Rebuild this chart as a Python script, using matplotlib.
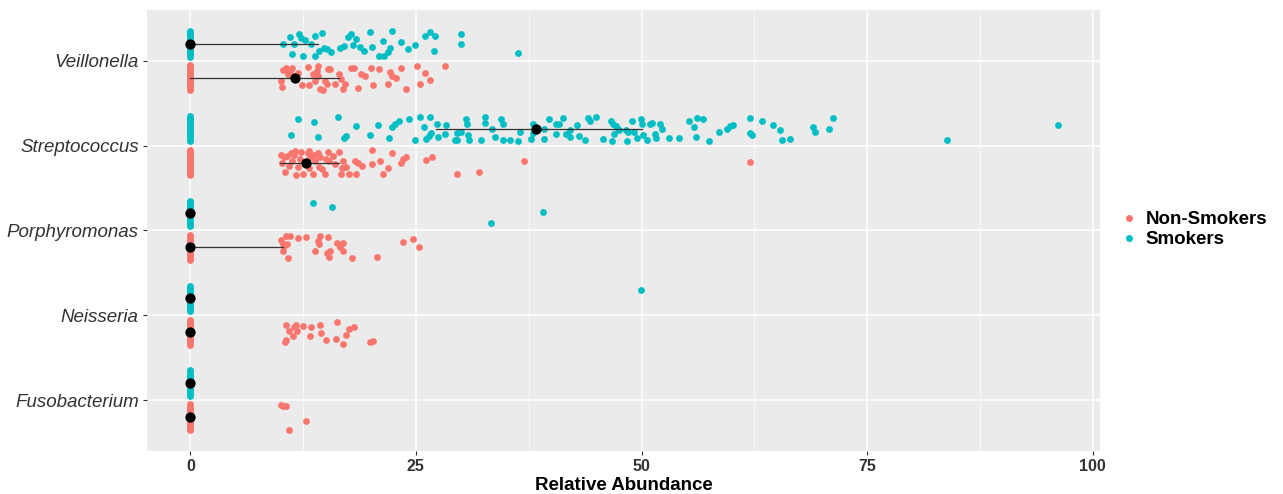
import matplotlib.pyplot as plt
from matplotlib.lines import Line2D

genera = ['Veillonella', 'Streptococcus', 'Porphyromonas', 'Neisseria', 'Fusobacterium']
groups = ['Non-Smokers', 'Smokers']
colors = {'Non-Smokers': '#F8766D', 'Smokers': '#00BFC4'}

# relative abundance of non-zero samples (x) and their vertical jitter (j)
veil_smk_x = [10.3, 11.0, 11.3, 11.5, 12.0, 12.3, 12.5, 12.7, 13.4, 13.8, 13.8, 14.3, 14.6, 14.8,
              15.1, 15.6, 16.6, 17.0, 17.5, 17.8, 18.0, 18.4, 18.8, 19.3, 19.9, 20.1, 20.9, 21.3,
              21.5, 21.9, 22.1, 22.3, 23.4, 24.1, 24.9, 26.0, 26.6, 27.1, 27.0, 30.0, 30.0, 36.3]
veil_smk_j = [0.00, 0.08, -0.12, 0.00, 0.11, 0.07, -0.14, 0.04, 0.00, 0.09, -0.14, -0.08, 0.13, -0.05,
              -0.06, -0.10, -0.05, -0.02, 0.08, 0.11, -0.01, 0.06, -0.04, -0.09, 0.14, -0.04, -0.14, 0.03,
              -0.14, -0.10, -0.05, 0.15, 0.02, -0.06, -0.01, 0.09, 0.14, 0.09, -0.08, 0.12, 0.00, -0.11]
veil_non_x = [10.1, 10.2, 10.3, 10.6, 10.8, 11.0, 11.3, 11.4, 11.6, 11.9, 12.4, 13.0, 13.2, 13.6,
              13.8, 14.0, 14.1, 14.1, 14.4, 14.7, 14.9, 15.1, 15.3, 15.5, 16.0, 16.5, 16.7, 16.9,
              17.1, 17.8, 18.1, 18.6, 18.9, 19.4, 20.0, 20.2, 20.9, 22.1, 22.3, 21.9, 22.8, 23.4,
              23.9, 25.1, 25.5, 26.0, 26.6, 28.2]
veil_non_j = [-0.04, -0.11, 0.09, 0.12, 0.04, 0.08, 0.11, 0.02, -0.02, 0.06, -0.08, 0.13, -0.09, 0.04,
              -0.04, 0.08, 0.14, 0.02, -0.13, -0.15, -0.04, -0.07, 0.10, 0.10, -0.07, 0.05, -0.02, -0.13,
              -0.07, 0.12, 0.12, -0.12, 0.04, 0.02, 0.12, -0.09, 0.10, 0.07, 0.02, -0.07, 0.00, 0.12,
              -0.13, 0.14, -0.07, 0.06, -0.03, 0.14]

strep_smk_x = [11.1, 11.9, 13.7, 14.1, 16.4, 17.0, 17.3, 18.4, 19.9, 20.8, 22.0, 22.3, 22.7, 23.1,
               24.2, 24.9, 25.5, 25.9, 26.1, 26.4, 26.6, 26.7, 27.3, 27.4, 28.2, 28.3, 29.3, 29.5,
               29.6, 30.0, 30.6, 30.7, 30.8, 30.9, 32.2, 32.6, 32.6, 33.4, 33.8, 34.4, 34.6, 34.7,
               35.4, 36.3, 36.5, 37.7, 38.0, 38.0, 39.2, 39.2, 39.8, 40.5, 40.5, 40.9, 41.3, 41.6,
               42.1, 42.1, 42.9, 43.1, 43.7, 44.1, 44.3, 44.9, 45.7, 46.6, 46.7, 46.8, 46.9, 47.2,
               47.4, 47.5, 48.3, 48.4, 48.5, 49.0, 49.2, 49.5, 49.9, 50.0, 50.2, 50.6, 50.9, 51.2,
               51.5, 51.6, 52.1, 52.3, 53.1, 54.2, 55.3, 55.8, 56.0, 56.2, 56.8, 57.5, 58.6, 59.5,
               59.8, 60.1, 62.0, 62.0, 62.2, 63.4, 64.6, 65.4, 65.6, 66.4, 69.0, 69.2, 70.8, 71.2,
               83.9, 96.1]
strep_smk_j = [-0.07, 0.11, 0.08, -0.10, 0.14, -0.11, -0.09, 0.03, -0.07, 0.04, -0.11, 0.02, 0.06, 0.09,
               0.11, -0.13, 0.14, 0.02, -0.12, -0.09, 0.14, -0.05, 0.06, -0.10, -0.06, 0.04, -0.13, -0.05,
               -0.13, -0.04, 0.11, 0.06, -0.07, -0.13, -0.13, 0.14, 0.07, -0.01, -0.10, 0.11, 0.06, -0.13,
               -0.13, -0.14, -0.04, -0.12, -0.05, 0.06, -0.01, -0.12, 0.11, -0.06, 0.06, 0.06, 0.12, -0.06,
               -0.02, -0.10, 0.04, -0.09, -0.13, 0.12, 0.09, 0.14, -0.12, 0.09, -0.15, 0.06, -0.06, 0.03,
               0.00, -0.02, -0.02, -0.14, -0.04, 0.09, -0.04, -0.11, 0.11, 0.06, -0.07, -0.13, 0.06, 0.07,
               -0.06, -0.11, 0.06, 0.00, -0.11, -0.11, 0.09, 0.02, -0.10, 0.12, 0.11, -0.14, -0.04, -0.01,
               0.03, 0.04, 0.12, -0.05, -0.07, 0.09, 0.04, -0.02, -0.13, -0.12, 0.02, -0.04, -0.01, 0.12,
               -0.13, 0.04]
strep_non_x = [10.0, 10.2, 10.4, 10.5, 10.7, 10.9, 11.1, 11.3, 11.5, 11.6, 11.7, 11.9, 12.1, 12.3,
               12.5, 13.0, 13.1, 13.2, 13.3, 13.6, 13.7, 13.8, 14.1, 14.3, 14.4, 14.6, 14.9, 15.0,
               15.3, 15.4, 15.8, 16.0, 16.5, 16.7, 16.8, 16.9, 17.3, 17.6, 18.2, 18.4, 18.6, 19.0,
               20.1, 20.1, 21.0, 21.3, 21.9, 22.3, 23.4, 23.6, 23.9, 26.1, 26.8, 29.6, 32.0, 37.0,
               62.0]
strep_non_j = [0.09, -0.01, 0.06, -0.11, 0.08, -0.04, 0.11, 0.02, 0.09, 0.14, -0.15, -0.05, 0.04, 0.12,
               -0.13, 0.11, 0.14, -0.06, 0.06, -0.13, 0.09, 0.02, 0.11, -0.05, 0.06, -0.07, -0.13, 0.04,
               0.12, 0.02, 0.08, -0.02, 0.12, -0.13, -0.06, 0.02, -0.05, -0.13, 0.02, -0.13, 0.00, -0.04,
               0.15, -0.02, 0.02, -0.13, -0.06, 0.11, 0.00, 0.04, 0.06, 0.03, 0.07, -0.14, -0.11, 0.02,
               0.01]

porph_smk_x = [13.6, 15.7, 33.3, 39.1]
porph_smk_j = [0.12, 0.08, -0.11, 0.02]
porph_non_x = [10.1, 10.3, 10.6, 11.0, 10.4, 10.7, 10.3, 10.8, 11.9, 12.8, 14.1, 14.4, 14.3, 13.8,
               15.3, 15.1, 15.5, 15.4, 16.3, 16.9, 16.6, 16.9, 17.9, 20.7, 23.6, 24.7, 25.3]
porph_non_j = [0.09, 0.04, 0.13, 0.14, 0.02, 0.04, -0.04, -0.13, 0.11, 0.12, 0.08, 0.14, 0.04, -0.04,
               0.12, -0.07, -0.04, -0.11, 0.05, 0.05, 0.00, -0.04, -0.13, -0.11, 0.06, 0.10, 0.00]

neis_smk_x = [49.9]
neis_smk_j = [0.10]
neis_non_x = [10.6, 10.9, 10.6, 10.5, 11.5, 11.7, 11.8, 11.4, 12.5, 13.4, 13.3, 14.4, 14.5, 15.0,
              16.3, 16.1, 16.9, 17.2, 17.6, 18.1, 19.9, 20.2]
neis_non_j = [0.09, 0.02, -0.09, -0.11, 0.06, 0.08, 0.02, -0.04, 0.07, 0.06, -0.04, 0.09, -0.01, -0.09,
              0.12, -0.08, -0.14, -0.03, 0.04, 0.06, -0.12, -0.10]

fuso_smk_x = []
fuso_smk_j = []
fuso_non_x = [10.1, 10.3, 10.6, 12.8, 10.9]
fuso_non_j = [0.14, 0.13, 0.13, -0.05, -0.15]

# jitter of the many zero-abundance samples in every group
zero_j = [-0.15, -0.13, -0.11, -0.09, -0.07, -0.05, -0.03, -0.01, 0.01, 0.03, 0.05, 0.07, 0.09,
          0.11, 0.13, 0.15]

# median and interquartile range per genus
smk_median = [0, 38.3, 0, 0, 0]
smk_q1 = [0, 27.2, 0, 0, 0]
smk_q3 = [14.1, 50.1, 0, 0, 0]
non_median = [11.6, 12.8, 0, 0, 0]
non_q1 = [0, 9.9, 0, 0, 0]
non_q3 = [16.5, 16.5, 10.3, 0, 0]

points = {
    'Non-Smokers': [(veil_non_x, veil_non_j), (strep_non_x, strep_non_j), (porph_non_x, porph_non_j),
                    (neis_non_x, neis_non_j), (fuso_non_x, fuso_non_j)],
    'Smokers': [(veil_smk_x, veil_smk_j), (strep_smk_x, strep_smk_j), (porph_smk_x, porph_smk_j),
                (neis_smk_x, neis_smk_j), (fuso_smk_x, fuso_smk_j)],
}
summary = {
    'Non-Smokers': (non_median, non_q1, non_q3),
    'Smokers': (smk_median, smk_q1, smk_q3),
}
dodge = {'Non-Smokers': -0.2, 'Smokers': 0.2}

plt.rcParams['font.family'] = ['Liberation Sans', 'DejaVu Sans']

fig = plt.figure(figsize=(12.83, 4.94), dpi=100)
ax = fig.add_axes([0.1146, 0.087, 0.7427, 0.893])
ax.set_facecolor('#EBEBEB')

n = len(genera)
ypos = [n - i for i in range(n)]  # Veillonella on top

for g in groups:
    for i, (xs, js) in enumerate(points[g]):
        base = ypos[i] + dodge[g]
        ax.scatter([0] * len(zero_j), [base + j for j in zero_j], s=24, color=colors[g],
                   linewidths=0, zorder=3)
        ax.scatter(xs, [base + j for j in js], s=24, color=colors[g], linewidths=0, zorder=3)

for g in groups:
    med, q1, q3 = summary[g]
    for i in range(n):
        base = ypos[i] + dodge[g]
        if q3[i] > q1[i]:
            ax.plot([q1[i], q3[i]], [base, base], color='#333333', lw=0.9, zorder=4)
        ax.scatter([med[i]], [base], s=55, color='black', linewidths=0, zorder=5)

ax.set_xlim(-4.8, 100.8)
ax.set_ylim(0.4, 5.6)
ax.set_xticks([0, 25, 50, 75, 100])
ax.set_xticks([12.5, 37.5, 62.5, 87.5], minor=True)
ax.set_yticks(ypos)
ax.set_yticklabels(genera, fontsize=13.5, style='italic', color='#333333')
for lab in ax.get_xticklabels():
    lab.set_fontweight('bold')
ax.tick_params(axis='x', labelsize=11.5, colors='#333333', length=3, width=0.8, pad=3)
ax.tick_params(axis='x', which='minor', length=0)
ax.tick_params(axis='y', length=3, width=0.8, colors='#333333', pad=3)
for lab in ax.get_xticklabels():
    lab.set_color('#333333')
ax.grid(True, which='major', color='white', lw=1.1)
ax.grid(True, which='minor', axis='x', color='white', lw=0.5)
ax.set_axisbelow(True)
for s in ax.spines.values():
    s.set_visible(False)
ax.set_xlabel('Relative Abundance', fontsize=13.5, fontweight='bold', labelpad=2)

handles = [Line2D([], [], marker='o', ls='', color=colors[g], markersize=4) for g in groups]
leg = fig.legend(handles, groups, loc='center left', bbox_to_anchor=(0.861, 0.535),
                 frameon=False, prop={'size': 13.5, 'weight': 'bold'}, handlelength=0.8,
                 handletextpad=0.5, labelspacing=0.15)

fig.savefig('out.png', dpi=100)
